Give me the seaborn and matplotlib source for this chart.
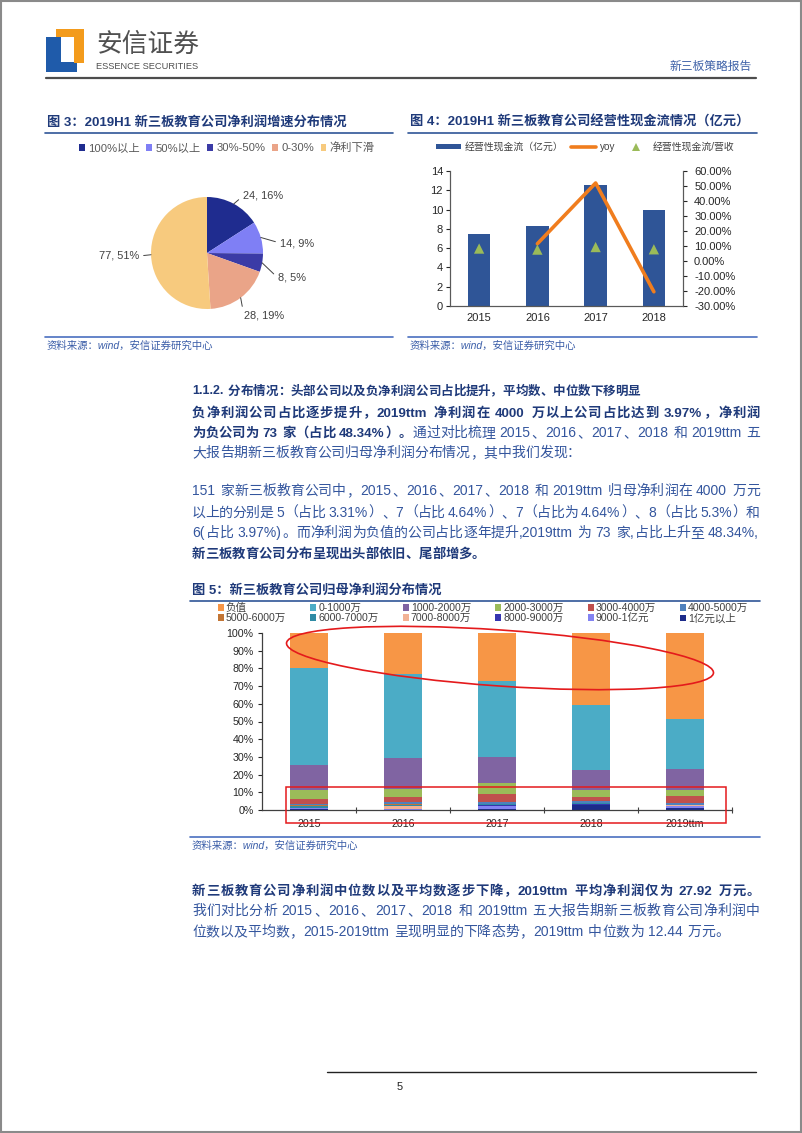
import re
import numpy as np
import pandas as pd
import matplotlib.pyplot as plt
import seaborn as sns
from matplotlib.patches import Patch, Polygon, Rectangle, Ellipse
from matplotlib.lines import Line2D
from matplotlib.ticker import FuncFormatter

# ---- 图3 净利润增速分布 ----
pie_labels = ['100%以上', '50%以上', '30%-50%', '0-30%', '净利下滑']
pie_counts = [24, 14, 8, 28, 77]
pie_colors = ['#1F2C8F', '#7F7FF5', '#3B3BA6', '#EAA488', '#F7CA7E']

# ---- 图4 经营性现金流 ----
cf_years = ['2015', '2016', '2017', '2018']
cf_value = [7.5, 8.3, 12.6, 10.0]          # 经营性现金流（亿元）
cf_yoy = [np.nan, 0.115, 0.52, -0.205]     # yoy
cf_ratio = [0.083, 0.076, 0.093, 0.078]    # 经营性现金流/营收

# ---- 图5 归母净利润分布（家数，共151家） ----
dist_years = ['2015', '2016', '2017', '2018', '2019ttm']
dist_groups = ['负值', '0-1000万', '1000-2000万', '2000-3000万', '3000-4000万', '4000-5000万',
               '5000-6000万', '6000-7000万', '7000-8000万', '8000-9000万', '9000-1亿元', '1亿元以上']
n_neg = [30, 35, 41, 61, 73]
n_0_1k = [83, 72, 65, 56, 43]
n_1k_2k = [21, 26, 22, 17, 18]
n_2k_3k = [8, 7, 9, 6, 5]
n_3k_4k = [4, 4, 7, 3, 6]
n_4k_5k = [1, 2, 2, 2, 2]
n_5k_6k = [1, 1, 0, 0, 0]
n_6k_7k = [1, 1, 1, 1, 0]
n_7k_8k = [0, 2, 0, 0, 1]
n_8k_9k = [0, 0, 1, 1, 0]
n_9k_1y = [1, 1, 2, 0, 1]
n_1y = [1, 0, 1, 4, 2]
dist_colors = ['#F79646', '#4BACC6', '#8064A2', '#9BBB59', '#C0504D', '#4F81BD',
               '#C27535', '#2F8BA5', '#F2B295', '#3535B0', '#8383F2', '#1C2B8A']

NAVY = '#1F3A7A'
BLUE = '#34569E'
SRC = '#3A5DA8'

sns.set_theme(style='white')
plt.rcParams['font.family'] = ['Liberation Sans', 'Noto Sans CJK SC']
plt.rcParams['axes.unicode_minus'] = False

W, H = 802, 1133


def box(x0, y0, x1, y1):
    return [x0 / W, 1 - y1 / H, (x1 - x0) / W, (y1 - y0) / H]


fig = plt.figure(figsize=(W / 100, H / 100), dpi=100)

# ---------------- 图3 pie ----------------
ax3 = fig.add_axes(box(127, 173, 287, 333))
wedges, _ = ax3.pie(pie_counts, colors=pie_colors, startangle=90, counterclock=False,
                    wedgeprops=dict(linewidth=0))
lim = 80 / 56
ax3.set_xlim(-lim, lim)
ax3.set_ylim(-lim, lim)
ax3.set_aspect('equal')
ax3.axis('off')
total = sum(pie_counts)
label_pos = [(243, 196, 'left'), (280, 243, 'left'), (278, 278, 'left'), (244, 316, 'left'), (139, 256, 'right')]
for w, n, (px, py, ha) in zip(wedges, pie_counts, label_pos):
    ang = np.deg2rad((w.theta1 + w.theta2) / 2)
    ax3.annotate(f'{n}, {n / total:.0%}', xy=(np.cos(ang), np.sin(ang)),
                 xytext=(px, H - py), textcoords='figure pixels', ha=ha, va='center',
                 fontsize=7.9, color='#404040',
                 arrowprops=dict(arrowstyle='-', color='#404040', lw=0.7, shrinkA=1, shrinkB=0,
                                 relpos=(0 if ha == 'left' else 1, 0.5)))
h3 = [Patch(facecolor=c, edgecolor='none') for c in pie_colors]
fig.legend(h3, pie_labels, loc='center left', bbox_to_anchor=(79 / W, 1 - 148 / H), ncol=5,
           frameon=False, fontsize=8.1, handlelength=0.5, handleheight=0.5, handletextpad=0.3,
           columnspacing=0.6, borderpad=0, borderaxespad=0, labelcolor='#595959')

# ---------------- 图4 bar + line ----------------
ax4 = fig.add_axes(box(450, 171, 683, 306))
sns.barplot(x=cf_years, y=cf_value, color='#2F5597', saturation=1, width=0.39, linewidth=0, ax=ax4)
ax4r = ax4.twinx()
xpos = np.arange(len(cf_years))
yoy = np.array(cf_yoy)
m = ~np.isnan(yoy)
sns.lineplot(x=xpos[m], y=yoy[m], color='#F07D1E', lw=2.6, ax=ax4r)
sns.scatterplot(x=xpos, y=cf_ratio, marker='^', s=55, color='#9BBB59', edgecolor='none', ax=ax4r, zorder=5)
ax4.set_xlim(-0.5, 3.5)
ax4r.set_xlim(-0.5, 3.5)
ax4.set_ylim(0, 14)
ax4.set_yticks(range(0, 15, 2))
ax4r.set_ylim(-0.3, 0.6)
ax4r.set_yticks(np.linspace(-0.3, 0.6, 10))
ax4r.yaxis.set_major_formatter(FuncFormatter(lambda v, p: f'{v * 100:.2f}%'))
for a in (ax4, ax4r):
    a.set_xlabel('')
    a.set_ylabel('')
    a.spines['top'].set_visible(False)
    for s in ('left', 'right', 'bottom'):
        a.spines[s].set_color('#595959')
        a.spines[s].set_linewidth(0.8)
ax4.tick_params(axis='y', left=True, direction='out', length=3, width=0.8, pad=2, labelsize=8, colors='#262626')
ax4r.tick_params(axis='y', right=True, direction='out', length=3, width=0.8, pad=5, labelsize=8, colors='#262626')
ax4.tick_params(axis='x', length=0, pad=5, labelsize=8, colors='#262626')
h4 = [Patch(facecolor='#2F5597', edgecolor='none'),
      Line2D([], [], color='#F07D1E', lw=2.6),
      Line2D([], [], color='#9BBB59', marker='^', ls='none', markersize=6, markeredgewidth=0)]
fig.legend(h4, ['经营性现金流（亿元）', 'yoy', '经营性现金流/营收'], loc='center left',
           bbox_to_anchor=(436 / W, 1 - 147 / H), ncol=3, frameon=False, fontsize=7.1,
           handlelength=2.5, handleheight=0.5, handletextpad=0.45, columnspacing=0.75,
           borderpad=0, borderaxespad=0, labelcolor='#404040')

# ---------------- 图5 stacked bars ----------------
ax5 = fig.add_axes(box(262, 633, 732, 810))
cnt = pd.DataFrame([n_neg, n_0_1k, n_1k_2k, n_2k_3k, n_3k_4k, n_4k_5k,
                    n_5k_6k, n_6k_7k, n_7k_8k, n_8k_9k, n_9k_1y, n_1y],
                   index=dist_groups, columns=dist_years)
share = cnt / cnt.sum()
cum = share.iloc[::-1].cumsum().iloc[::-1]
for g, c in zip(dist_groups, dist_colors):
    sns.barplot(x=dist_years, y=cum.loc[g].values, color=c, saturation=1, width=0.4, linewidth=0, ax=ax5)
ax5.set_xlim(-0.5, 4.5)
ax5.set_ylim(0, 1)
ax5.set_yticks(np.linspace(0, 1, 11))
ax5.yaxis.set_major_formatter(FuncFormatter(lambda v, p: f'{v:.0%}'))
ax5.set_xticks(np.arange(0.5, 4.6, 1), minor=True)
ax5.set_xlabel('')
ax5.set_ylabel('')
for s in ('top', 'right'):
    ax5.spines[s].set_visible(False)
for s in ('left', 'bottom'):
    ax5.spines[s].set_color('#404040')
    ax5.spines[s].set_linewidth(0.9)
ax5.tick_params(axis='x', which='minor', bottom=True, direction='inout', length=5, width=0.8, color='#404040')
ax5.tick_params(axis='x', which='major', length=0, pad=6.5, labelsize=7.7, colors='#262626')
ax5.tick_params(axis='y', left=True, direction='out', length=3, width=0.8, pad=3, labelsize=7.7, colors='#262626')
h5 = [Patch(facecolor=c, edgecolor='none') for c in dist_colors]
order = [i for pair in zip(range(6), range(6, 12)) for i in pair]
fig.legend([h5[i] for i in order], [dist_groups[i] for i in order], loc='center left',
           bbox_to_anchor=(218 / W, 1 - 613.5 / H), ncol=6, frameon=False, fontsize=7.6,
           handlelength=0.55, handleheight=0.55, handletextpad=0.2, columnspacing=2.3,
           labelspacing=0.0, borderpad=0, borderaxespad=0, labelcolor='#404040')

# ---------------- page overlay: header, titles, text ----------------
ov = fig.add_axes([0, 0, 1, 1])
ov.set_xlim(0, W)
ov.set_ylim(H, 0)
ov.axis('off')
ov.set_zorder(10)
ov.patch.set_visible(False)

# frame and header
ov.add_patch(Rectangle((1, 1), W - 2, H - 2, fill=False, edgecolor='#8a8a8a', lw=1.5))
ov.add_patch(Polygon([(46, 37), (61, 37), (61, 62), (77, 62), (77, 72), (46, 72)], closed=True,
                     facecolor='#1F5BAA', lw=0))
ov.add_patch(Polygon([(56, 29), (84, 29), (84, 63), (74, 63), (74, 37), (56, 37)], closed=True,
                     facecolor='#F39B1C', lw=0))
ov.text(96, 45, '安信证券', fontsize=18.5, color='#505050', va='center', ha='left')
ov.text(96, 66.5, 'ESSENCE SECURITIES', fontsize=6.7, color='#505050', va='center', ha='left')
ov.plot([46, 756], [77.5, 77.5], color='#4d4d4d', lw=1.6)
ov.text(752, 67, '新三板策略报告', fontsize=8.5, color='#3F62A8', ha='right', va='center')

# figure titles, rules and sources
for x0, x1, yt, yb, title in [
        (45, 393, 133, 337, '图 3：2019H1 新三板教育公司净利润增速分布情况'),
        (408, 757, 133, 337, '图 4：2019H1 新三板教育公司经营性现金流情况（亿元）'),
        (190, 760, 601, 837, '图 5：新三板教育公司归母净利润分布情况')]:
    ov.text(x0 + 2, yt - 11, title, fontsize=9.5, fontweight='bold', color=NAVY, va='center', ha='left')
    ov.plot([x0, x1], [yt, yt], color='#2F5597', lw=1.2)
    ov.plot([x0, x1], [yb, yb], color='#4A6FC0', lw=1.2)
    ov.text(x0 + 2, yb + 8.5, '资料来源：wind，安信证券研究中心', fontsize=7.5, style='italic',
            color=SRC, va='center', ha='left')

# red highlight marks on 图5
ov.add_patch(Ellipse((500, 658), 428, 56, angle=4, fill=False, edgecolor='#E41A1C', lw=1.2))
ov.add_patch(Rectangle((286, 787), 440, 36, fill=False, edgecolor='#E41A1C', lw=1.1))

renderer = fig.canvas.get_renderer()


def para_line(yc, segs, x1=None, x0=192, bold_size=9.6):
    items = []
    for s, bold in segs:
        for tok in re.findall(r'[!-~]+| +|.', s):
            items.append((tok, bold))
    objs, widths = [], []
    for tok, bold in items:
        size = bold_size if bold else 10
        em = size * 100 / 72
        if tok.strip() == '':
            objs.append(None)
            widths.append(len(tok) * 0.28 * em)
            continue
        t = ov.text(x0, yc + 0.36 * em, tok, fontsize=size, fontweight='bold' if bold else 'normal',
                    color=NAVY if bold else BLUE, ha='left', va='baseline')
        objs.append(t)
        if re.match(r'[!-~]', tok):
            widths.append(t.get_window_extent(renderer).width + 0.08 * em)
        else:
            widths.append(em)
    gap = 0.0
    if x1 is not None and len(items) > 1:
        gap = (x1 - x0 - sum(widths)) / (len(items) - 1)
    x = x0
    for t, w in zip(objs, widths):
        if t is not None:
            t.set_x(x)
        x += w + gap


para_line(390, [('1.1.2. 分布情况：头部公司以及负净利润公司占比提升，平均数、中位数下移明显', True)], bold_size=9.0)
para_line(412, [('负净利润公司占比逐步提升，2019ttm 净利润在 4000 万以上公司占比达到 3.97%，净利润', True)], 760)
para_line(432, [('为负公司为 73 家（占比 48.34%）。', True),
                ('通过对比梳理 2015、2016、2017、2018 和 2019ttm 五', False)], 760)
para_line(452, [('大报告期新三板教育公司归母净利润分布情况，其中我们发现：', False)])
para_line(490, [('151 家新三板教育公司中，2015、2016、2017、2018 和 2019ttm 归母净利润在 4000 万元', False)], 760)
para_line(512, [('以上的分别是 5（占比 3.31%）、7（占比 4.64%）、7（占比为 4.64%）、8（占比 5.3%）和', False)], 760)
para_line(532, [('6(占比 3.97%)。而净利润为负值的公司占比逐年提升,2019ttm 为 73 家,占比上升至 48.34%,', False)], 760)
para_line(553, [('新三板教育公司分布呈现出头部依旧、尾部增多。', True)])
para_line(890, [('新三板教育公司净利润中位数以及平均数逐步下降，2019ttm 平均净利润仅为 27.92 万元。', True)], 760)
para_line(910, [('我们对比分析 2015、2016、2017、2018 和 2019ttm 五大报告期新三板教育公司净利润中', False)], 760)
para_line(931, [('位数以及平均数，2015-2019ttm 呈现明显的下降态势，2019ttm 中位数为 12.44 万元。', False)])

# footer
ov.plot([327, 756], [1072, 1072], color='#222222', lw=1.0)
ov.text(400, 1087, '5', fontsize=8, ha='center', va='center', color='#222222')

fig.savefig('out.png', dpi=100)
